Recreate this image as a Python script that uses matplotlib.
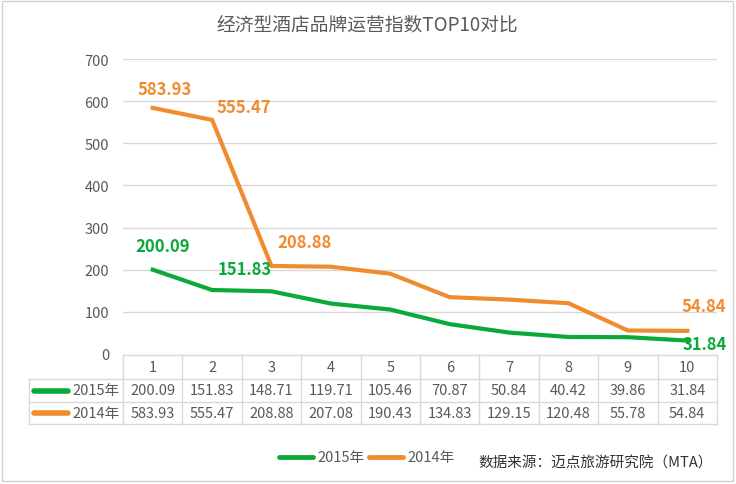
import matplotlib
matplotlib.use("Agg")
import matplotlib.pyplot as plt
import matplotlib.transforms as mtrans

plt.rcParams['font.family'] = ['Noto Sans CJK SC', 'DejaVu Sans']

############################################
# DATA
############################################

TITLE = "经济型酒店品牌运营指数TOP10对比"
SOURCE = "数据来源：迈点旅游研究院（MTA）"

categories = [1, 2, 3, 4, 5, 6, 7, 8, 9, 10]
s2015 = [200.09, 151.83, 148.71, 119.71, 105.46, 70.87, 50.84, 40.42, 39.86, 31.84]
s2014 = [583.93, 555.47, 208.88, 207.08, 190.43, 134.83, 129.15, 120.48, 55.78, 54.84]
name2015 = "2015年"
name2014 = "2014年"
yticks = [0, 100, 200, 300, 400, 500, 600, 700]

# which points carry a bold value label, and the offset (px) of that label
labels2015 = {0: (10, 24), 1: (33, 21), 9: (17, -3)}
labels2014 = {0: (12, 19), 1: (32, 13), 2: (33, 24), 9: (17, 25)}

GREEN = "#0BA83A"
ORANGE = "#F08C2F"
GRAY = "#595959"
GRID = "#D9D9D9"

W, H = 736, 485

############################################
# FIGURE
############################################

fig = plt.figure(figsize=(W / 100, H / 100), dpi=100)

# overlay in pixel coordinates for the frame, table and legend
ov = fig.add_axes([0, 0, 1, 1])
ov.set_xlim(0, W)
ov.set_ylim(H, 0)
ov.axis("off")
ov.add_patch(plt.Rectangle((2, 2), W - 5, H - 5, fill=False, ec="#D0D0D0", lw=1))

left, right, top, bottom = 123, 717, 60, 355
ax = fig.add_axes([left / W, 1 - bottom / H, (right - left) / W, (bottom - top) / H])
ax.set_xlim(0.5, 10.5)
ax.set_ylim(0, 700)
ax.set_yticks(yticks)
ax.set_yticklabels([str(v) for v in yticks], fontsize=10.5, color=GRAY)
ax.tick_params(axis="y", length=0, pad=10)
ax.set_xticks([])
for sp in ax.spines.values():
    sp.set_visible(False)
ax.grid(axis="y", color=GRID, lw=1)
ax.set_axisbelow(True)
ax.patch.set_alpha(0)

ax.plot(categories, s2014, color=ORANGE, lw=3, solid_joinstyle="miter", zorder=3)
ax.plot(categories, s2015, color=GREEN, lw=3, solid_joinstyle="miter", zorder=3)

for i, (dx, dy) in labels2014.items():
    ax.annotate(f"{s2014[i]:.2f}", (categories[i], s2014[i]), xytext=(dx, dy),
                textcoords="offset pixels", ha="center", va="center",
                fontsize=12, fontweight="bold", color=ORANGE, zorder=4)
for i, (dx, dy) in labels2015.items():
    ax.annotate(f"{s2015[i]:.2f}", (categories[i], s2015[i]), xytext=(dx, dy),
                textcoords="offset pixels", ha="center", va="center",
                fontsize=12, fontweight="bold", color=GREEN, zorder=4)

fig.text(367 / W, 1 - 25 / H, TITLE, ha="center", va="center", fontsize=13.5, color=GRAY)

############################################
# DATA TABLE
############################################

tr = mtrans.blended_transform_factory(ax.transData, ov.transData)
rows = [356, 380, 403, 425]
x0, x1 = 0.5, 10.5
lab_left = 29

# horizontal lines
ov.plot([left, right], [rows[0], rows[0]], color=GRID, lw=1)
for y in rows[1:]:
    ov.plot([lab_left, right], [y, y], color=GRID, lw=1)
# vertical lines
ov.plot([lab_left, lab_left], [rows[1], rows[3]], color=GRID, lw=1)
for k in range(len(categories) + 1):
    xb = x0 + k
    ov.plot([xb, xb], [rows[0], rows[3]], color=GRID, lw=1, transform=tr)

for i, c in enumerate(categories):
    ov.text(c, (rows[0] + rows[1]) / 2, str(c), transform=tr, ha="center", va="center",
            fontsize=10.5, color=GRAY)
    ov.text(c, (rows[1] + rows[2]) / 2, f"{s2015[i]:.2f}", transform=tr, ha="center",
            va="center", fontsize=10.5, color=GRAY)
    ov.text(c, (rows[2] + rows[3]) / 2, f"{s2014[i]:.2f}", transform=tr, ha="center",
            va="center", fontsize=10.5, color=GRAY)

for (name, col, r) in [(name2015, GREEN, 1), (name2014, ORANGE, 2)]:
    yc = (rows[r] + rows[r + 1]) / 2
    ov.plot([34, 68], [yc, yc], color=col, lw=4, solid_capstyle="round")
    ov.text(72, yc, name, ha="left", va="center", fontsize=10.5, color=GRAY)

############################################
# LEGEND + SOURCE
############################################

ly = 458
ov.plot([279, 313], [ly, ly], color=GREEN, lw=3.5, solid_capstyle="round")
ov.text(317, ly, name2015, ha="left", va="center", fontsize=10.5, color=GRAY)
ov.plot([369, 403], [ly, ly], color=ORANGE, lw=3.5, solid_capstyle="round")
ov.text(407, ly, name2014, ha="left", va="center", fontsize=10.5, color=GRAY)
ov.text(478, 464, SOURCE, ha="left", va="center", fontsize=10.5, color="#333333")

fig.savefig("out.png", dpi=100)
